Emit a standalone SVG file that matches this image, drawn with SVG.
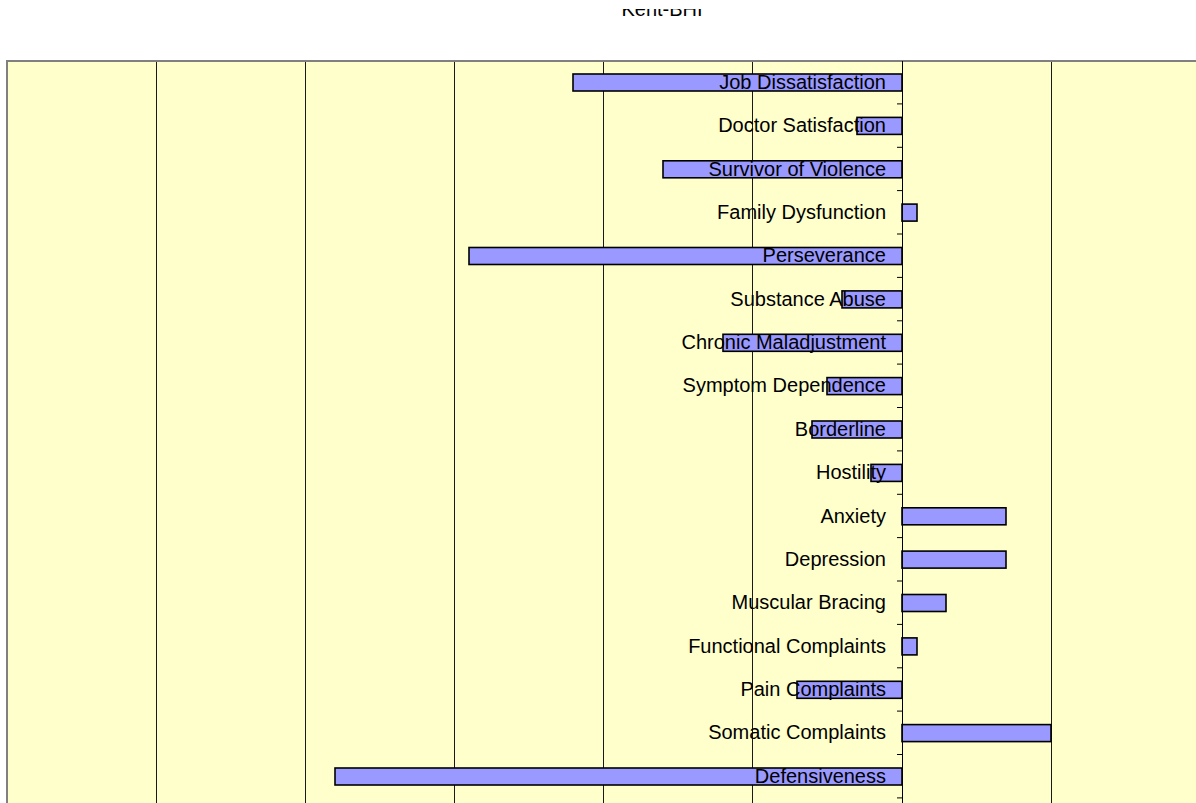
<svg xmlns="http://www.w3.org/2000/svg" width="1196" height="803" viewBox="0 0 1196 803">
<style>
.grid{stroke:#1a1a1a;stroke-width:1}
.tick{stroke:#000;stroke-width:1}
.bar{fill:#9999FF;stroke:#000;stroke-width:1.6}
.lbl{font-family:"Liberation Sans",Arial,sans-serif;font-size:20px;fill:#000;text-anchor:end}
.title{font-family:"Liberation Sans",Arial,sans-serif;font-size:20px;fill:#000;text-anchor:middle}
</style>
<defs>
<clipPath id="tclip"><rect x="0" y="9" width="1196" height="20"/></clipPath>
</defs>
<rect x="0" y="0" width="1196" height="803" fill="#fff"/>
<text class="title" x="662" y="16" clip-path="url(#tclip)">Kent-BHI</text>
<g id="plot-area">
<rect x="7" y="61" width="1200" height="750" fill="#FFFFCC"/>
<line x1="7" y1="61" x2="1196" y2="61" stroke="#808080" stroke-width="2"/>
<line x1="7" y1="60" x2="7" y2="803" stroke="#808080" stroke-width="2"/>
</g>
<g id="gridlines">
<line class="grid" x1="156.5" y1="62" x2="156.5" y2="803"/>
<line class="grid" x1="305.5" y1="62" x2="305.5" y2="803"/>
<line class="grid" x1="454.5" y1="62" x2="454.5" y2="803"/>
<line class="grid" x1="603.5" y1="62" x2="603.5" y2="803"/>
<line class="grid" x1="752.5" y1="62" x2="752.5" y2="803"/>
<line class="grid" x1="1051.5" y1="62" x2="1051.5" y2="803"/>
</g>
<g id="bars">
<rect class="bar" x="573" y="74" width="329" height="17"/>
<rect class="bar" x="857" y="117.4" width="45" height="17"/>
<rect class="bar" x="663" y="160.8" width="239" height="17"/>
<rect class="bar" x="902" y="204.1" width="15" height="17"/>
<rect class="bar" x="469" y="247.5" width="433" height="17"/>
<rect class="bar" x="842" y="290.9" width="60" height="17"/>
<rect class="bar" x="723" y="334.3" width="179" height="17"/>
<rect class="bar" x="827" y="377.6" width="75" height="17"/>
<rect class="bar" x="812" y="421" width="90" height="17"/>
<rect class="bar" x="871" y="464.4" width="31" height="17"/>
<rect class="bar" x="902" y="507.8" width="104" height="17"/>
<rect class="bar" x="902" y="551.1" width="104" height="17"/>
<rect class="bar" x="902" y="594.5" width="44" height="17"/>
<rect class="bar" x="902" y="637.9" width="15" height="17"/>
<rect class="bar" x="797" y="681.3" width="105" height="17"/>
<rect class="bar" x="902" y="724.6" width="149" height="17"/>
<rect class="bar" x="335" y="768" width="567" height="17"/>
</g>
<g id="axis">
<line x1="902.5" y1="61" x2="902.5" y2="803" stroke="#000" stroke-width="1"/>
<line class="tick" x1="897" y1="103.9" x2="902" y2="103.9"/>
<line class="tick" x1="897" y1="147.3" x2="902" y2="147.3"/>
<line class="tick" x1="897" y1="190.6" x2="902" y2="190.6"/>
<line class="tick" x1="897" y1="234" x2="902" y2="234"/>
<line class="tick" x1="897" y1="277.4" x2="902" y2="277.4"/>
<line class="tick" x1="897" y1="320.8" x2="902" y2="320.8"/>
<line class="tick" x1="897" y1="364.1" x2="902" y2="364.1"/>
<line class="tick" x1="897" y1="407.5" x2="902" y2="407.5"/>
<line class="tick" x1="897" y1="450.9" x2="902" y2="450.9"/>
<line class="tick" x1="897" y1="494.3" x2="902" y2="494.3"/>
<line class="tick" x1="897" y1="537.6" x2="902" y2="537.6"/>
<line class="tick" x1="897" y1="581" x2="902" y2="581"/>
<line class="tick" x1="897" y1="624.4" x2="902" y2="624.4"/>
<line class="tick" x1="897" y1="667.8" x2="902" y2="667.8"/>
<line class="tick" x1="897" y1="711.1" x2="902" y2="711.1"/>
<line class="tick" x1="897" y1="754.5" x2="902" y2="754.5"/>
<line class="tick" x1="897" y1="797.9" x2="902" y2="797.9"/>
</g>
<g id="labels">
<text class="lbl" x="886" y="88.7">Job Dissatisfaction</text>
<text class="lbl" x="886" y="132.1">Doctor Satisfaction</text>
<text class="lbl" x="886" y="175.5">Survivor of Violence</text>
<text class="lbl" x="886" y="218.8">Family Dysfunction</text>
<text class="lbl" x="886" y="262.2">Perseverance</text>
<text class="lbl" x="886" y="305.6">Substance Abuse</text>
<text class="lbl" x="886" y="349">Chronic Maladjustment</text>
<text class="lbl" x="886" y="392.3">Symptom Dependence</text>
<text class="lbl" x="886" y="435.7">Borderline</text>
<text class="lbl" x="886" y="479.1">Hostility</text>
<text class="lbl" x="886" y="522.5">Anxiety</text>
<text class="lbl" x="886" y="565.8">Depression</text>
<text class="lbl" x="886" y="609.2">Muscular Bracing</text>
<text class="lbl" x="886" y="652.6">Functional Complaints</text>
<text class="lbl" x="886" y="696">Pain Complaints</text>
<text class="lbl" x="886" y="739.3">Somatic Complaints</text>
<text class="lbl" x="886" y="782.7">Defensiveness</text>
</g>
</svg>
